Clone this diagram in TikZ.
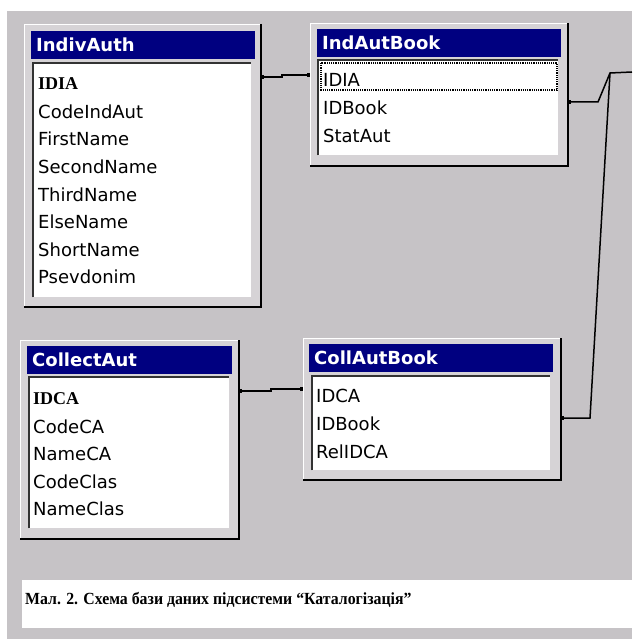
\documentclass[tikz,border=0pt]{standalone}
\usepackage{fontspec}
\setmainfont{Liberation Serif}
\newfontfamily\winfont{DejaVu Sans}
\usetikzlibrary{arrows.meta,calc,positioning}
\definecolor{WinGray}{RGB}{198,195,198}
\definecolor{FrameGray}{RGB}{214,211,214}
\definecolor{TitleBlue}{RGB}{0,0,128}

\begin{document}
\begin{tikzpicture}[x=1pt,y=-1pt,
  tabframe/.style={draw=white,line width=1pt,fill=FrameGray,anchor=north west,inner sep=0pt},
  titlebar/.style={fill=TitleBlue,text=white,anchor=north west,inner xsep=5pt,inner ysep=0pt,
    minimum height=28pt,align=left,font=\winfont\fontsize{18}{20}\selectfont\bfseries},
  listbox/.style={fill=white,anchor=north west,inner sep=0pt},
  fieldrow/.style={anchor=west,inner sep=0pt,font=\winfont\fontsize{18}{20}\selectfont},
  keyrow/.style={anchor=west,inner sep=0pt,font=\fontsize{18}{20}\selectfont\bfseries},
  rel/.style={line width=1.5pt,{Square[length=3pt,width=4pt]}-{Square[length=3pt,width=4pt]}},
]
\useasboundingbox (0,0) rectangle (632,639);
\fill[white] (0,0) rectangle (632,639);
\fill[WinGray] (7,11) rectangle (632,639);

% tables
\node[tabframe,minimum width=236pt,minimum height=282pt] (indivauth) at (24,24) {};
\node[tabframe,minimum width=257pt,minimum height=142pt] (indautbook) at (310,23) {};
\node[tabframe,minimum width=218pt,minimum height=198pt] (collectaut) at (20,340) {};
\node[tabframe,minimum width=257pt,minimum height=141pt] (collautbook) at (303,338) {};
\foreach \t in {indivauth,indautbook,collectaut,collautbook}
  \draw[line width=2pt] (\t.north east) -- (\t.south east) -- (\t.south west);

\node[titlebar,text width=214pt] (indivauth-bar) at ([shift={(7pt,-7pt)}]indivauth.north west) {IndivAuth};
\node[titlebar,text width=234pt] (indautbook-bar) at ([shift={(7pt,-6pt)}]indautbook.north west) {IndAutBook};
\node[titlebar,text width=195pt] (collectaut-bar) at ([shift={(7pt,-6pt)}]collectaut.north west) {CollectAut};
\node[titlebar,text width=234pt] (collautbook-bar) at ([shift={(6pt,-6pt)}]collautbook.north west) {CollAutBook};

\node[listbox,minimum width=218pt,minimum height=234pt] (indivauth-list) at ([shift={(9pt,-39pt)}]indivauth.north west) {};
\node[listbox,minimum width=240pt,minimum height=95pt] (indautbook-list) at ([shift={(8pt,-37pt)}]indautbook.north west) {};
\node[listbox,minimum width=200pt,minimum height=151pt] (collectaut-list) at ([shift={(9pt,-37pt)}]collectaut.north west) {};
\node[listbox,minimum width=238pt,minimum height=94pt] (collautbook-list) at ([shift={(9pt,-38pt)}]collautbook.north west) {};
\foreach \t in {indivauth,indautbook,collectaut,collautbook}
  \draw[line width=1.5pt,black!80] (\t-list.south west) |- (\t-list.north east);

% fields
\node[keyrow] (ia-0) at (38,84) {IDIA};
\foreach \f [count=\i] in {CodeIndAut,FirstName,SecondName,ThirdName,ElseName,ShortName,Psevdonim}
  \node[fieldrow] (ia-\i) at (38,84+27.6*\i) {\f};
\foreach \f [count=\i from 0] in {IDIA,IDBook,StatAut}
  \node[fieldrow] (ib-\i) at (323,80+28*\i) {\f};
\draw[densely dotted,line width=1.2pt] (indautbook-list.north west) ++(3,3) rectangle ++(236,27);
\node[keyrow] (ca-0) at (33,399) {IDCA};
\foreach \f [count=\i] in {CodeCA,NameCA,CodeClas,NameClas}
  \node[fieldrow] (ca-\i) at (33,399+27.5*\i) {\f};
\foreach \f [count=\i from 0] in {IDCA,IDBook,RelIDCA}
  \node[fieldrow] (cb-\i) at (316,396+28*\i) {\f};

% links
\coordinate (offright) at (632,72);
\coordinate (join) at (610,73);
\draw[rel] ([yshift=-53pt]indivauth.north east) -- ++(21,0) |- ([yshift=-52pt]indautbook.north west);
\draw[rel] ([yshift=-51pt]collectaut.north east) -- ++(32,0) |- ([yshift=-51pt]collautbook.north west);
\draw[line width=1.5pt,{Square[length=3pt,width=4pt]}-] ([yshift=-79pt]indautbook.north east) -- ++(30,0) -- (join) -- (offright);
\draw[line width=1.5pt,{Square[length=3pt,width=4pt]}-] ([yshift=-80pt]collautbook.north east) -- ++(29,0) -- (join);

% caption
\node[fill=white,anchor=north west,minimum width=610pt,minimum height=48pt,inner sep=0pt] (capbox) at (22,580) {};
\node[anchor=base west,inner sep=0pt,font=\fontsize{17}{20}\selectfont\bfseries] (caption) at (25,604)
  {\scalebox{0.93}[1]{Мал. 2. Схема бази даних підсистеми “Каталогізація”}};
\end{tikzpicture}
\end{document}
